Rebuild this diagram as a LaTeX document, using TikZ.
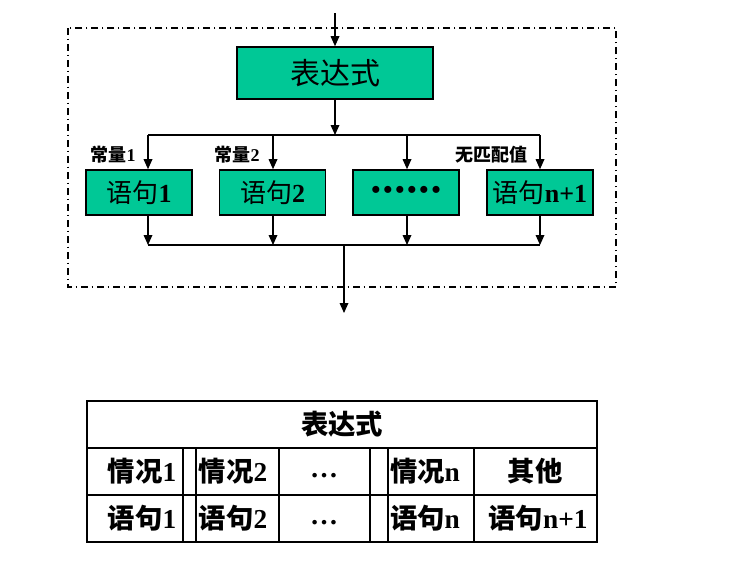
\documentclass[tikz,border=0pt]{standalone}
\usepackage{fontspec}
\setmainfont{Liberation Serif}[BoldFont={Liberation Serif Bold}]
\newfontfamily\cjk{Noto Sans CJK SC}
\usetikzlibrary{arrows.meta}
\definecolor{boxgreen}{RGB}{0,200,150}
\newcommand\bdot{•\kern2.2pt}
\begin{document}
\begin{tikzpicture}[x=0.75pt,y=-0.75pt,
  box/.style={draw=black, line width=1.2pt, fill=boxgreen, inner sep=0pt, anchor=center},
  bigbox/.style={box, minimum width=147pt, minimum height=39pt, font=\fontsize{22.5}{26}\selectfont},
  smallbox/.style={box, minimum width=79.5pt, minimum height=33.75pt, font=\fontsize{19.5}{23}\selectfont\bfseries},
  arr/.style={-{Triangle[length=7.5pt,width=6.5pt]}, line width=0.9pt},
  ln/.style={line width=0.9pt},
  lbl/.style={font=\fontsize{13.5}{15}\selectfont\bfseries, inner sep=0pt},
  cell/.style={font=\fontsize{20.5}{24}\selectfont\bfseries, inner sep=0pt},
  dots/.style={cell, font=\fontsize{21}{24}\selectfont\bfseries},
  frame/.style={line width=0.9pt, dash pattern=on 5pt off 3pt on 1pt off 3pt},
  tab/.style={line width=1.5pt}]
\useasboundingbox (0,0) rectangle (737,561);

% frame
\draw[frame] (68,28) rectangle (616,287);

% boxes
\node[bigbox] (expr) at (335,73) {{\cjk 表达式}};
\node[smallbox] (b1) at (139,192.5) {{\cjk\mdseries 语句}1};
\node[smallbox] (b2) at (272.5,192.5) {{\cjk\mdseries 语句}2};
\node[smallbox] (b3) at (406,192.5) {\raisebox{-1.2pt}{\bdot\bdot\bdot\bdot\bdot•}};
\node[smallbox] (b4) at (540,192.5) {{\cjk\mdseries 语句}n+1};

% labels
\node[lbl] (l1) at (113,155) {{\cjk 常量}1};
\node[lbl] (l2) at (237,155) {{\cjk 常量}2};
\node[lbl] (l4) at (491,155) {{\cjk 无匹配值}};

% top connectors
\coordinate (in) at (335,13);
\coordinate (split) at (335,135);
\coordinate (sl) at (148,135);
\coordinate (sr) at (540,135);
\coordinate (s2) at (273,135);
\coordinate (s3) at (407,135);
\draw[arr] (in) -- (expr.north);
\draw[arr] (expr.south) -- (split);
\draw[ln] (sl) -- (sr);
\draw[arr] (sl) -- (sl |- b1.north);
\draw[arr] (s2) -- (s2 |- b2.north);
\draw[arr] (s3) -- (s3 |- b3.north);
\draw[arr] (sr) -- (sr |- b4.north);

% bottom connectors
\coordinate (jl) at (148,245);
\coordinate (jr) at (540,245);
\coordinate (j2) at (273,245);
\coordinate (j3) at (407,245);
\coordinate (out) at (344,313);
\draw[arr] (jl |- b1.south) -- (jl);
\draw[arr] (j2 |- b2.south) -- (j2);
\draw[arr] (j3 |- b3.south) -- (j3);
\draw[arr] (jr |- b4.south) -- (jr);
\draw[ln] (jl) -- (jr);
\draw[arr] (out |- jl) -- (out);

% table
\draw[tab] (87,401) rectangle (597,542);
\draw[tab] (87,448) -- (597,448);
\draw[tab] (87,495) -- (597,495);
\foreach \xx in {183,196,279,370,388,474}
  \draw[tab] (\xx,448) -- (\xx,542);

\node[cell] (th) at (342,424) {{\cjk 表达式}};
\node[cell] (c1) at (142,471.5) {{\cjk 情况}1};
\node[cell] (c2) at (233,471.5) {{\cjk 情况}2};
\node[dots] (c3) at (324,476) {…};
\node[cell] (c4) at (425,471.5) {{\cjk 情况}n};
\node[cell] (c5) at (535,471.5) {{\cjk 其他}};
\node[cell] (d1) at (142,518.5) {{\cjk 语句}1};
\node[cell] (d2) at (233,518.5) {{\cjk 语句}2};
\node[dots] (d3) at (324,523) {…};
\node[cell] (d4) at (425,518.5) {{\cjk 语句}n};
\node[cell] (d5) at (538,518.5) {{\cjk 语句}n+1};
\end{tikzpicture}
\end{document}
